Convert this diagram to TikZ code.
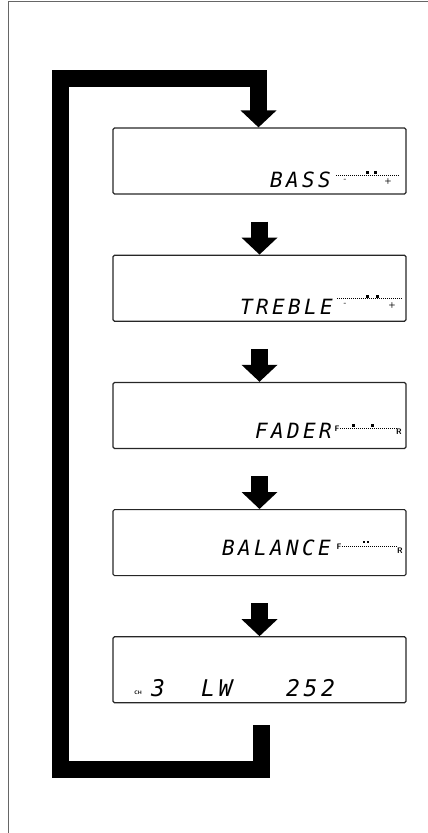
\documentclass[tikz,border=0pt]{standalone}
\usepackage{fontspec}
\usetikzlibrary{positioning,arrows.meta}
\newfontfamily\lcdfont{DejaVu Sans Mono}[LetterSpace=16]

\begin{document}
\begin{tikzpicture}[x=1pt,y=-1pt,
    display/.style={draw=black!85,line width=1.2pt,rounded corners=1.5pt,
        minimum width=293pt,minimum height=66pt,inner sep=0pt},
    lcd/.style={font=\lcdfont\itshape\fontsize{21}{21}\selectfont,inner sep=0pt,anchor=base west},
    biglcd/.style={lcd,font=\lcdfont\itshape\fontsize{23}{23}\selectfont},
    blockarrow/.style={line width=17pt,line join=miter,-{Triangle[width=35pt,length=17pt]}},
    scaledots/.style={line width=0.9pt,dash pattern=on 1pt off 1pt},
    seg/.style={fill=black,minimum size=3pt,inner sep=0pt},
    tinymark/.style={font=\sffamily\bfseries\fontsize{8}{8}\selectfont,inner sep=0pt}]
    \useasboundingbox (0,0) rectangle (428,833);
    % page frame
    \draw[black!60,line width=1pt] (428,1) -- (8,1) -- (8,833);
    % the five displays
    \node[display] (b1) at (259.5,161) {};
    \node[display,below=60pt of b1] (b2) {};
    \node[display,below=60pt of b2] (b3) {};
    \node[display,below=60pt of b3] (b4) {};
    \node[display,below=60pt of b4] (b5) {};
    % display texts
    \node[lcd] (bass) at (270,187) {BASS};
    \node[lcd] (treble) at (240,314) {TREBLE};
    \node[lcd] (fader) at (255,438) {FADER};
    \node[lcd] (balance) at (222,555) {BALANCE};
    \node[tinymark,font=\sffamily\bfseries\fontsize{5}{5}\selectfont] (ch) at (138,693) {CH};
    \node[biglcd] (chan) at (151,696) {3};
    \node[biglcd] (band) at (201,696) {LW};
    \node[biglcd] (freq) at (286,696) {252};
    % level scales
    \draw[scaledots] (336,175) -- (399,175);
    \node[seg] (bassa) at (367,172) {};
    \node[seg] (bassb) at (375,172) {};
    \node[tinymark] (bassmin) at (345,180) {-};
    \node[tinymark] (bassplus) at (388,181) {+};
    \draw[scaledots] (337,298) -- (403,298);
    \node[seg] (treba) at (367,296) {};
    \node[seg] (trebb) at (377,296) {};
    \node[tinymark] (trebmin) at (345,304) {-};
    \node[tinymark] (trebplus) at (392,305) {+};
    \node[tinymark] (fadf) at (337,429) {F};
    \draw[scaledots] (340,428) -- (397,428);
    \node[seg] (fada) at (353,425) {};
    \node[seg] (fadb) at (372,425) {};
    \node[tinymark] (fadr) at (399,432) {R};
    \node[tinymark] (balf) at (339,547) {F};
    \draw[scaledots] (342,546) -- (398,546);
    \node[seg,minimum size=2.5pt] (bala) at (364,542) {};
    \node[seg,minimum size=2.5pt] (balb) at (368,542) {};
    \node[tinymark] (balr) at (400,551) {R};
    % arrows between displays
    \foreach \a/\b in {b1/b2,b2/b3,b3/b4,b4/b5}
        \draw[blockarrow] ([yshift=-27pt]\a.south) -- (\b.north);
    % return loop
    \coordinate (loopstart) at ([xshift=2pt,yshift=-22pt]b5.south);
    \coordinate (loopbot) at (60,769.5);
    \coordinate (looptop) at (60,78.5);
    \draw[blockarrow] (loopstart) |- (loopbot) -- (looptop) -| ([xshift=-1pt]b1.north);
\end{tikzpicture}
\end{document}
